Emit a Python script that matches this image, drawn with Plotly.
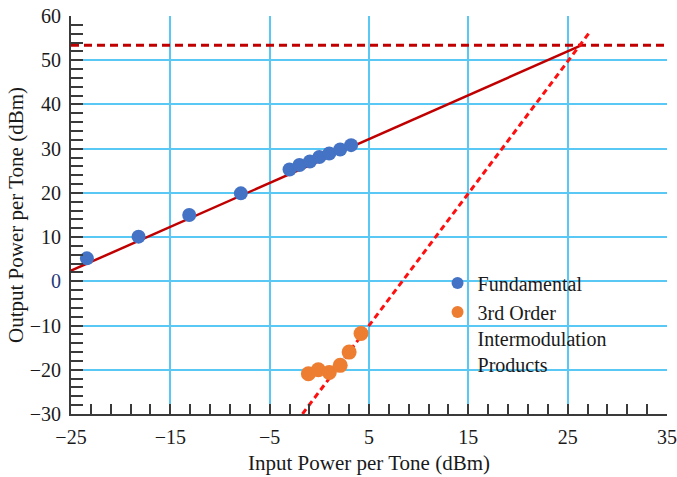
import plotly.graph_objects as go

# Measured two-tone test data
fund_in = [-23.4, -18.2, -13.1, -7.9, -3.0, -2.0, -0.95, 0.0, 1.0, 2.1, 3.2]
fund_out = [5.2, 10.1, 15.0, 19.9, 25.3, 26.3, 27.1, 28.1, 28.9, 29.8, 30.8]

imd_in = [-1.1, -0.1, 1.0, 2.1, 3.0, 4.2]
imd_out = [-20.9, -20.0, -20.6, -19.0, -16.0, -11.8]

# Extrapolated fits and the third-order intercept level
fund_fit_x = [-25, 26.3]
fund_fit_y = [2.4, 53.3]
imd_fit_x = [-1.7, 27.2]
imd_fit_y = [-30, 56.3]
ip3_level = 53.4
x_range = [-25, 35]
y_range = [-30, 60]

x_ticks = [-25, -15, -5, 5, 15, 25, 35]
y_ticks = [-30, -20, -10, 0, 10, 20, 30, 40, 50, 60]


def fmt(v):
    return str(v).replace("-", "\u2212")


y_ticktext = [
    '<span style="color:#1f3a7a">0</span>' if v == 0 else fmt(v) for v in y_ticks
]

FONT = "Liberation Serif, Times New Roman, serif"
GRID = "#5ac8f5"
AXIS = "#3a3a3a"
TXT = "#1a1a1a"

fig = go.Figure()

fig.add_trace(go.Scatter(
    x=x_range, y=[ip3_level, ip3_level], mode="lines",
    line=dict(color="#c00000", width=3, dash="8px,5px"),
    showlegend=False, hoverinfo="skip"))
fig.add_trace(go.Scatter(
    x=fund_fit_x, y=fund_fit_y, mode="lines",
    line=dict(color="#c00000", width=2.5),
    showlegend=False, hoverinfo="skip"))
fig.add_trace(go.Scatter(
    x=imd_fit_x, y=imd_fit_y, mode="lines",
    line=dict(color="#ff1010", width=3, dash="6px,4px"),
    showlegend=False, hoverinfo="skip"))

fig.add_trace(go.Scatter(
    x=fund_in, y=fund_out, mode="markers", name="Fundamental",
    marker=dict(color="#4472c4", size=14)))
fig.add_trace(go.Scatter(
    x=imd_in, y=imd_out, mode="markers",
    name="3rd Order<br>Intermodulation<br>Products",
    marker=dict(color="#ed7d31", size=15)))

# white panel behind the legend, hiding the grid there
fig.add_shape(type="rect", xref="paper", yref="paper",
              x0=0.633, x1=0.96, y0=0.079, y1=0.38,
              fillcolor="white", line=dict(width=0), layer="between")

fig.update_layout(
    width=677, height=477,
    margin=dict(l=71, r=10, t=16, b=63),
    paper_bgcolor="white", plot_bgcolor="white",
    font=dict(family=FONT, size=20, color=TXT),
    legend=dict(
        x=0.615, y=0.378, xanchor="left", yanchor="top",
        bgcolor="rgba(0,0,0,0)", borderwidth=0,
        font=dict(family=FONT, size=20, color=TXT),
        itemsizing="constant", valign="top", tracegroupgap=5,
    ),
)

fig.update_xaxes(
    range=x_range, tickvals=x_ticks, ticktext=[fmt(v) for v in x_ticks],
    showgrid=True, gridcolor=GRID, gridwidth=1.5,
    showline=True, linecolor=AXIS, linewidth=2,
    ticks="inside", ticklen=10, tickwidth=2, tickcolor=AXIS,
    minor=dict(dtick=2, tick0=-25, ticks="inside", ticklen=10,
               tickwidth=2, tickcolor=AXIS, showgrid=False),
    zeroline=False, automargin=False, ticklabelstandoff=4,
    title=dict(text="Input Power per Tone (dBm)", standoff=8,
               font=dict(family=FONT, size=21)),
    tickfont=dict(family=FONT, size=20, color=TXT),
)
fig.update_yaxes(
    range=y_range, tickvals=y_ticks, ticktext=y_ticktext,
    showgrid=True, gridcolor=GRID, gridwidth=1.5,
    showline=True, linecolor=AXIS, linewidth=2,
    ticks="inside", ticklen=12, tickwidth=2, tickcolor=AXIS,
    minor=dict(dtick=2, tick0=-30, ticks="inside", ticklen=12,
               tickwidth=2, tickcolor=AXIS, showgrid=False),
    zeroline=False, automargin=False, ticklabelstandoff=4,
    title=dict(text="Output Power per Tone (dBm)", standoff=0,
               font=dict(family=FONT, size=21)),
    tickfont=dict(family=FONT, size=20, color=TXT),
)

fig.write_html("out.html")
